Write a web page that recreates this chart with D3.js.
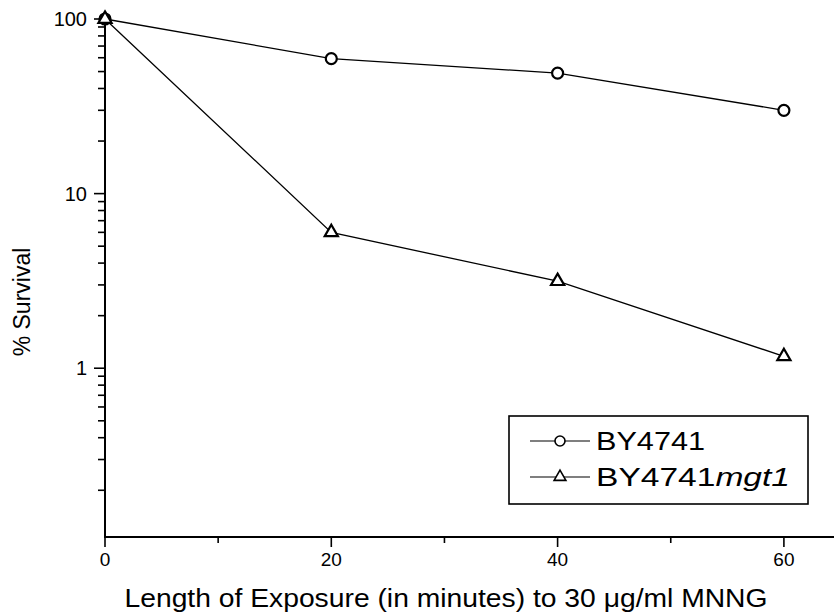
<!DOCTYPE html>
<html><head><meta charset="utf-8">
<script src="https://cdn.jsdelivr.net/npm/d3@7"></script>
<style>body{margin:0;background:#fff}svg{display:block}text{font-family:"Liberation Sans",Arial,sans-serif;fill:#000}</style>
</head><body><svg id="c" width="834" height="616"></svg>
<script>
const times = [0, 20, 40, 60];
const wildType = [100, 59.3, 49, 30];
const mutant = [100, 6.0, 3.15, 1.17];
const seriesNames = ["BY4741", "BY4741", "mgt1"];
const xTicks = [0, 20, 40, 60];
const xMinor = [10, 30, 50];
const yTicks = [1, 10, 100];
const yMinor = [0.2,0.3,0.4,0.5,0.6,0.7,0.8,0.9,2,3,4,5,6,7,8,9,20,30,40,50,60,70,80,90];

const svg = d3.select("#c");
const x = d3.scaleLinear().domain([0, 20]).range([105, 331.3]);
const y = d3.scaleLog().domain([0.108, 100]).range([537, 19]);

// axes
const ax = svg.append("g").attr("stroke","#000").attr("fill","none");
ax.append("line").attr("x1",104).attr("x2",834).attr("y1",537).attr("y2",537).attr("stroke-width",1.8);
ax.append("line").attr("x1",105).attr("x2",105).attr("y1",y(100)-1).attr("y2",537).attr("stroke-width",2);
xTicks.forEach(t=>ax.append("line").attr("x1",x(t)).attr("x2",x(t)).attr("y1",537).attr("y2",547).attr("stroke-width",1.6));
xMinor.forEach(t=>ax.append("line").attr("x1",x(t)).attr("x2",x(t)).attr("y1",537).attr("y2",543).attr("stroke-width",1.6));
yTicks.forEach(t=>ax.append("line").attr("x1",94).attr("x2",105).attr("y1",y(t)).attr("y2",y(t)).attr("stroke-width",1.6));
yMinor.forEach(t=>ax.append("line").attr("x1",98).attr("x2",105).attr("y1",y(t)).attr("y2",y(t)).attr("stroke-width",1.6));

svg.append("g").selectAll("text").data(xTicks).join("text")
  .attr("x",d=>x(d)).attr("y",566).attr("text-anchor","middle").attr("font-size",19).text(d=>d);
svg.append("g").selectAll("text").data(yTicks).join("text")
  .attr("x",87).attr("y",d=>y(d)+7).attr("text-anchor","end").attr("font-size",20).text(d=>d);

svg.append("text").attr("x",446).attr("y",607).attr("text-anchor","middle").attr("font-size",25)
  .attr("textLength",643).attr("lengthAdjust","spacingAndGlyphs")
  .text("Length of Exposure (in minutes) to 30 \u03bcg/ml MNNG");
svg.append("text").attr("transform","translate(30,302) rotate(-90)").attr("text-anchor","middle").attr("font-size",23)
  .text("% Survival");

const line = d3.line().x((d,i)=>x(times[i])).y(d=>y(d));
const tri = d3.symbol().type(d3.symbolTriangle).size(75);
const triL = d3.symbol().type(d3.symbolTriangle).size(60);

svg.append("path").attr("d",line(wildType)).attr("fill","none").attr("stroke","#000").attr("stroke-width",1.3);
svg.append("path").attr("d",line(mutant)).attr("fill","none").attr("stroke","#000").attr("stroke-width",1.3);
svg.append("g").selectAll("circle").data(wildType).join("circle")
  .attr("cx",(d,i)=>x(times[i])).attr("cy",d=>y(d)).attr("r",5.5)
  .attr("fill","#fff").attr("stroke","#000").attr("stroke-width",2.2);
svg.append("g").selectAll("path").data(mutant).join("path")
  .attr("d",tri).attr("transform",(d,i)=>`translate(${x(times[i])},${y(d)})`)
  .attr("fill","#fff").attr("stroke","#000").attr("stroke-width",2.2);

// legend
const lg = svg.append("g");
lg.append("rect").attr("x",509).attr("y",416).attr("width",299).attr("height",88).attr("fill","#fff").attr("stroke","#000").attr("stroke-width",1.6);
lg.append("line").attr("x1",530).attr("x2",590).attr("y1",441).attr("y2",441).attr("stroke","#000").attr("stroke-width",1.2);
lg.append("circle").attr("cx",560).attr("cy",441).attr("r",5).attr("fill","#fff").attr("stroke","#000").attr("stroke-width",1.6);
lg.append("line").attr("x1",530).attr("x2",590).attr("y1",477).attr("y2",477).attr("stroke","#000").attr("stroke-width",1.2);
lg.append("path").attr("d",triL).attr("transform","translate(560,477)").attr("fill","#fff").attr("stroke","#000").attr("stroke-width",1.6);
lg.append("text").attr("x",596).attr("y",450).attr("font-size",25)
  .attr("textLength",109).attr("lengthAdjust","spacingAndGlyphs").text(seriesNames[0]);
const t2 = lg.append("text").attr("x",596).attr("y",486).attr("font-size",25)
  .attr("textLength",194).attr("lengthAdjust","spacingAndGlyphs");
t2.append("tspan").text(seriesNames[1]);
t2.append("tspan").attr("font-style","italic").text(seriesNames[2]);
</script></body></html>
